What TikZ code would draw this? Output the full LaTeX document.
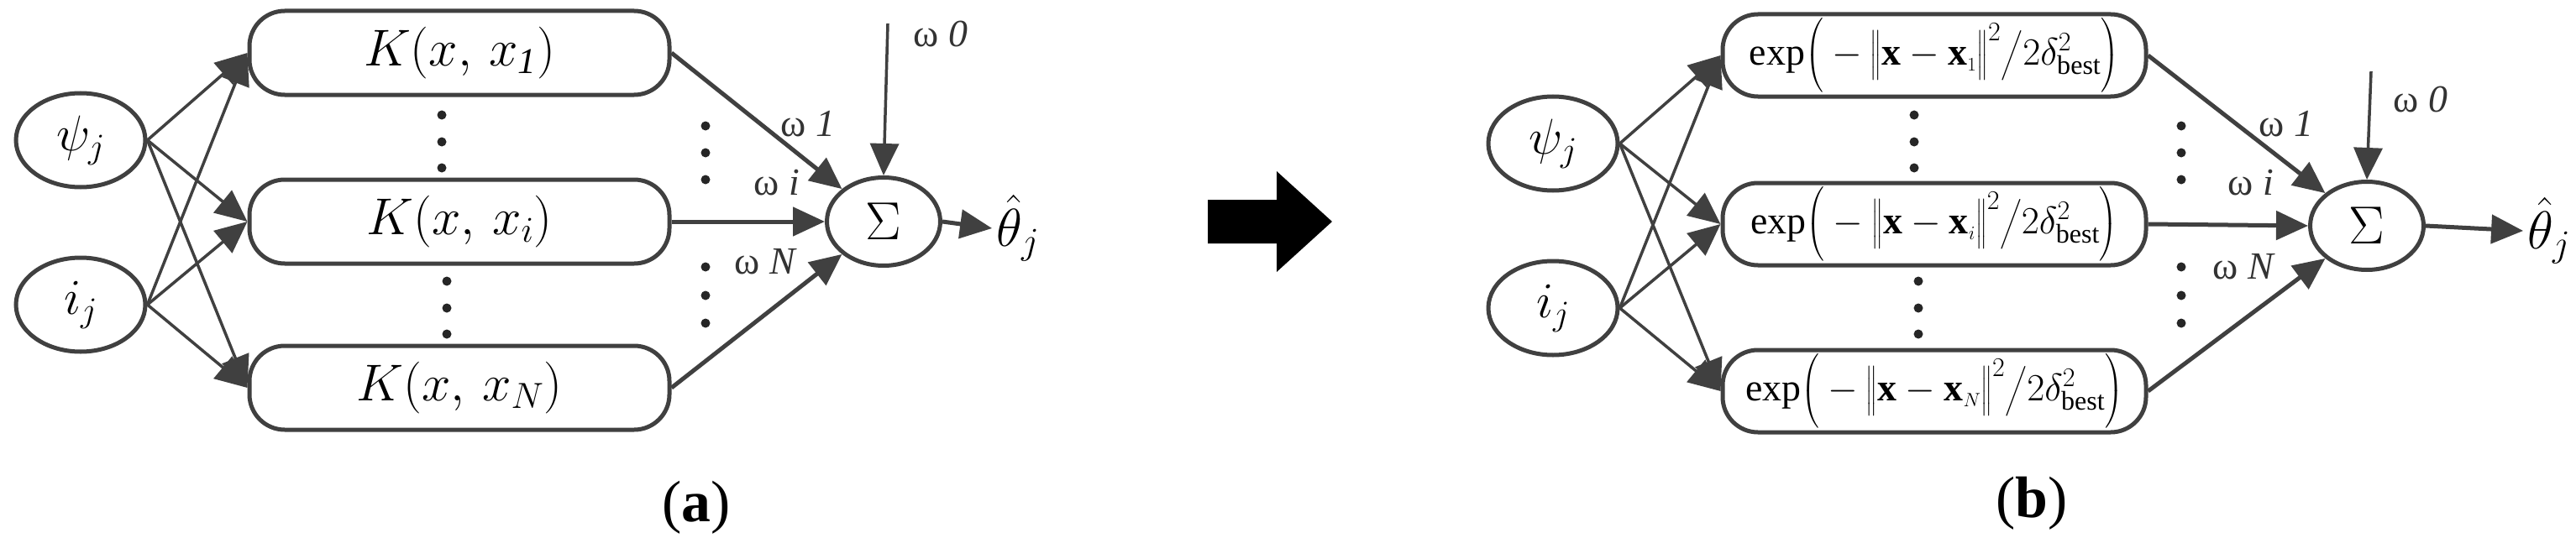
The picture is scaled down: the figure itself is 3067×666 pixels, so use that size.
\RequirePackage{fix-cm}
\documentclass[tikz,border=0pt]{standalone}
\usepackage{amsmath}
\usepackage{fontspec}
\setmainfont{Liberation Serif}
\usetikzlibrary{arrows.meta,shapes.geometric}
\begin{document}
\begin{tikzpicture}[x=1bp,y=-1bp,
  line width=5bp, draw=black!75,
  inp/.style={ellipse,draw,minimum width=154bp,minimum height=112bp,inner sep=0pt,font=\fontsize{60}{60}\selectfont},
  sig/.style={ellipse,draw,minimum width=135bp,minimum height=105bp,inner sep=0pt,font=\fontsize{64}{64}\selectfont},
  kbox/.style={rounded corners=42bp,draw,minimum width=500bp,minimum height=100bp,inner sep=0pt,font=\fontsize{62}{62}\selectfont},
  ebox/.style={rounded corners=42bp,draw,minimum width=504bp,minimum height=98bp,inner sep=0pt,font=\fontsize{46}{46}\selectfont},
  arr/.style={-{Triangle[length=38bp,width=34bp]},draw=black!75},
  thin arr/.style={arr,line width=3.5bp},
  wl/.style={font=\fontsize{46}{46}\selectfont,text=black!80},
  dotn/.style={circle,fill=black!85,inner sep=0pt,minimum size=11bp},
  captxt/.style={font=\fontsize{70}{70}\selectfont}]
\useasboundingbox (0,0) rectangle (3067,666);
\fill[white] (0,0) rectangle (3067,666);
% ---------- (a)
\node[inp] (pa) at (96,167) {$\psi_j$};
\node[inp] (ia) at (96,363) {$i_j$};
\node[kbox] (k1) at (547,63) {$K(x,\,x_{\mathit 1})$};
\node[kbox] (ki) at (547,264) {$K(x,\,x_i)$};
\node[kbox] (kn) at (547,462) {$K(x,\,x_N)$};
\node[sig] (sa) at (1052,264) {$\Sigma$};
\coordinate (w0a) at (1057,28);
\node (tha) at (1212,272) {\fontsize{64}{64}\selectfont$\hat{\theta}_j$};
\foreach \s in {pa,ia}{\foreach \k in {k1,ki,kn}{\draw[thin arr] (\s.east) -- (\k.west);}}
\draw[arr] (k1.east) -- (sa.north west);
\draw[arr] (ki.east) -- (sa.west);
\draw[arr] (kn.east) -- (sa.south west);
\draw[thin arr] (w0a) -- (sa.north);
\draw[arr] (sa.east) -- (tha.west);
\foreach \y in {137,169,200}{\node[dotn] (da\y) at (526,\y) {};}
\foreach \y in {335,367,398}{\node[dotn] (db\y) at (532,\y) {};}
\foreach \y in {150,182,214,318,352,385}{\node[dotn] (dc\y) at (840,\y) {};}
\node[wl] (la1) at (962,148) {ω \textit{1}};
\node[wl] (la0) at (1120,40) {ω \textit{0}};
\node[wl] (lai) at (925,218) {ω \textit{i}};
\node[wl] (lan) at (912,312) {ω \textit{N}};
\node[captxt] (ca) at (829,605) {(\textbf{a})};
% ---------- big arrow
\fill[black] (1438,238) -- (1520,238) -- (1520,204) -- (1586,264) -- (1520,324) -- (1520,290) -- (1438,290) -- cycle;
% ---------- (b)
\node[inp] (pb) at (1849,171) {$\psi_j$};
\node[inp] (ib) at (1849,367) {$i_j$};
\node[ebox] (e1) at (2303,66) {$\exp\!\Big(-\big\Vert\mathbf{x}-\mathbf{x}_{\scriptscriptstyle 1}\big\Vert^2\big/2\delta^2_{\text{best}}\Big)$};
\node[ebox] (ei) at (2303,267) {$\exp\!\Big(-\big\Vert\mathbf{x}-\mathbf{x}_{\scriptscriptstyle i}\big\Vert^2\big/2\delta^2_{\text{best}}\Big)$};
\node[ebox] (en) at (2303,466) {$\exp\!\Big(-\big\Vert\mathbf{x}-\mathbf{x}_{\scriptscriptstyle N}\big\Vert^2\big/2\delta^2_{\text{best}}\Big)$};
\node[sig] (sb) at (2818,269) {$\Sigma$};
\coordinate (w0b) at (2823,85);
\node (thb) at (3035,275) {\fontsize{64}{64}\selectfont$\hat{\theta}_j$};
\foreach \s in {pb,ib}{\foreach \k in {e1,ei,en}{\draw[thin arr] (\s.east) -- (\k.west);}}
\draw[arr] (e1.east) -- (sb.north west);
\draw[arr] (ei.east) -- (sb.west);
\draw[arr] (en.east) -- (sb.south west);
\draw[thin arr] (w0b) -- (sb.north);
\draw[arr] (sb.east) -- (thb.west);
\foreach \y in {137,169,200}{\node[dotn] (dd\y) at (2279,\y) {};}
\foreach \y in {335,367,398}{\node[dotn] (de\y) at (2284,\y) {};}
\foreach \y in {150,182,214,318,352,385}{\node[dotn] (df\y) at (2597,\y) {};}
\node[wl] (lb1) at (2722,148) {ω \textit{1}};
\node[wl] (lb0) at (2882,118) {ω \textit{0}};
\node[wl] (lbi) at (2680,218) {ω \textit{i}};
\node[wl] (lbn) at (2672,318) {ω \textit{N}};
\node[captxt] (cb) at (2419,600) {(\textbf{b})};
\end{tikzpicture}
\end{document}
